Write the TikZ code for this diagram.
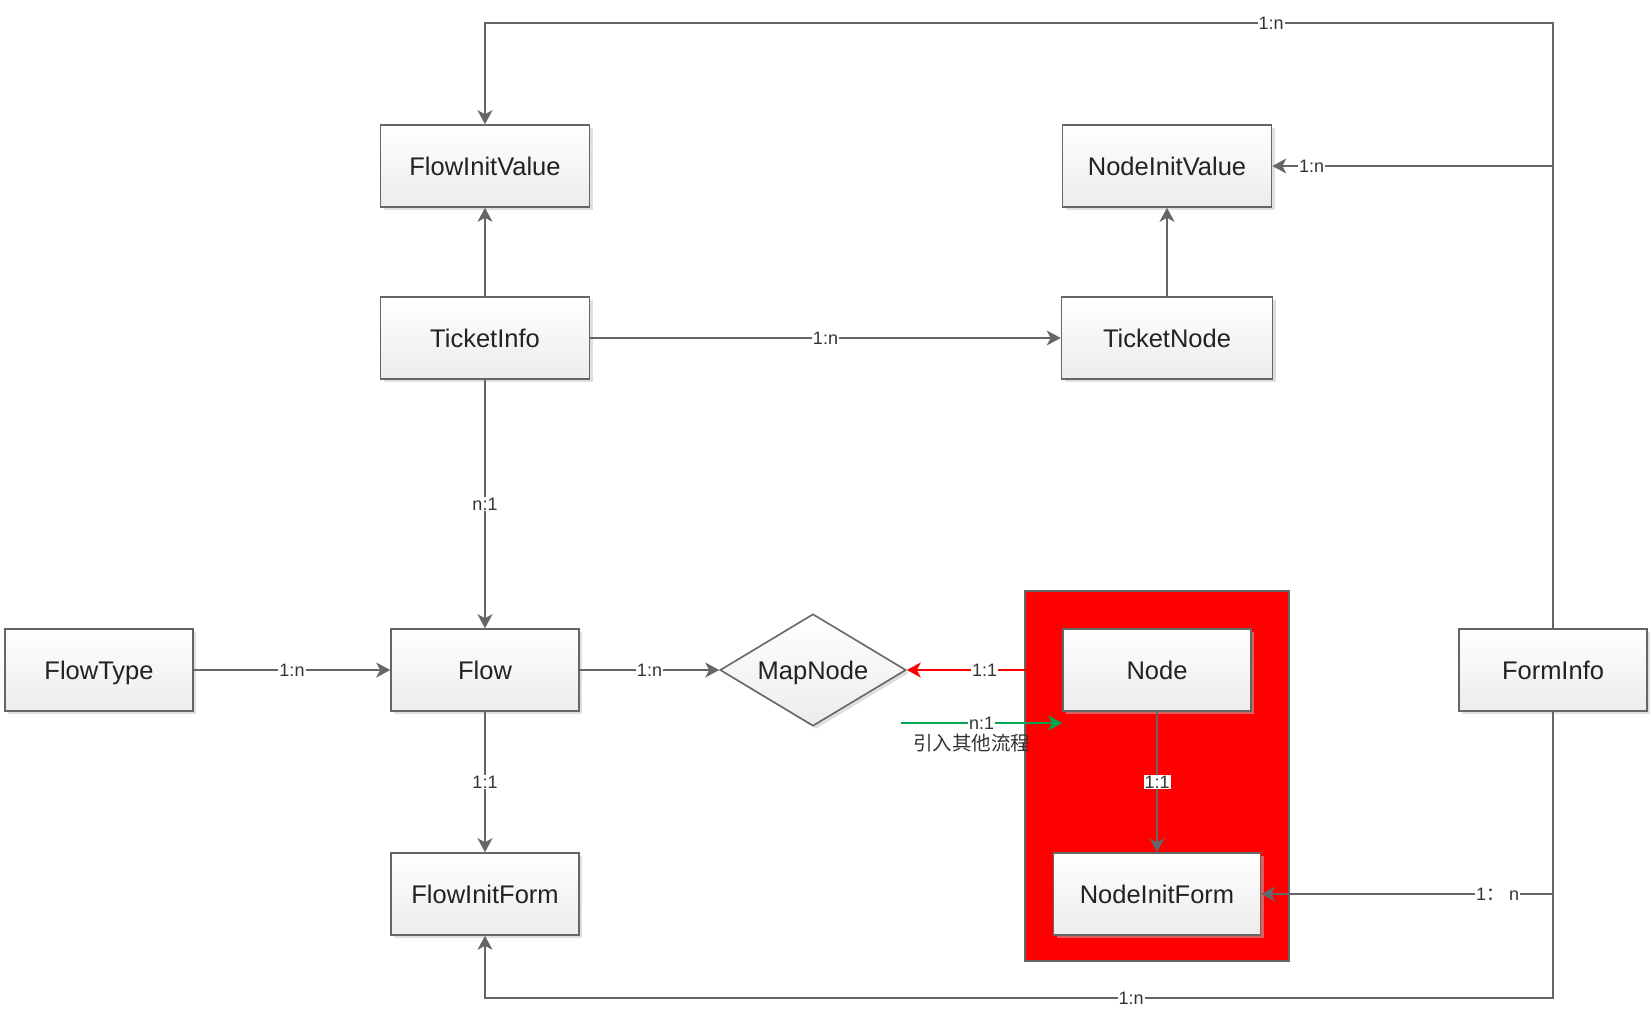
\documentclass[tikz,border=0pt]{standalone}
\usepackage{fontspec}
\setmainfont{Liberation Sans}
\newfontfamily\cjk{Noto Sans CJK SC}
\usetikzlibrary{arrows.meta}
\usetikzlibrary{shapes.geometric}
\usetikzlibrary{shadows}
\definecolor{linegray}{HTML}{666666}
\definecolor{textgray}{HTML}{222222}
\definecolor{lblgray}{HTML}{333333}
\definecolor{flowgreen}{HTML}{00A651}
\tikzset{
	entity/.style={draw=linegray, line width=1.6pt, top color=white, bottom color=gray!15,
		drop shadow={shadow xshift=3pt, shadow yshift=-3pt, fill=gray!50, opacity=.5},
		minimum height=82pt, text height=18pt, text depth=0pt, text=textgray, font=\fontsize{25.5}{30}\selectfont},
	relation/.style={entity, diamond, aspect=1.66, minimum width=186pt, minimum height=112pt, inner sep=0pt},
	conn/.style={draw=linegray, line width=1.6pt},
	lbl/.style={fill=white, inner sep=1pt, text=lblgray, font=\fontsize{18}{20}\selectfont},
	cnlbl/.style={inner sep=0pt, text=lblgray, font=\cjk\fontsize{19.5}{22}\selectfont},
	>={Stealth[length=14pt, width=15pt, inset=4pt]}
}
\begin{document}
\begin{tikzpicture}[x=1pt, y=1pt]
	\useasboundingbox (0,0) rectangle (1652,-1012);
	% red group round Node and NodeInitForm
	\node[draw=linegray, line width=1.6pt, fill=red, minimum width=264pt, minimum height=370pt] (nodegroup) at (1157,-776) {};
	\node[entity, minimum width=209pt] (flowinitvalue) at (485,-166) {FlowInitValue};
	\node[entity, minimum width=209pt] (nodeinitvalue) at (1167,-166) {NodeInitValue};
	\node[entity, minimum width=209pt] (ticketinfo) at (485,-338) {TicketInfo};
	\node[entity, minimum width=211pt] (ticketnode) at (1167,-338) {TicketNode};
	\node[entity, minimum width=188pt] (flowtype) at (99,-670) {FlowType};
	\node[entity, minimum width=188pt] (flow) at (485,-670) {Flow};
	\node[relation] (mapnode) at (813,-670) {MapNode};
	\node[entity, minimum width=188pt] (nodebox) at (1157,-670) {Node};
	\node[entity, minimum width=188pt] (forminfo) at (1553,-670) {FormInfo};
	\node[entity, minimum width=188pt] (flowinitform) at (485,-894) {FlowInitForm};
	\node[entity, minimum width=207pt] (nodeinitform) at (1157,-894) {NodeInitForm};
	% corners of the FormInfo lines
	\coordinate (topright) at (1553,-23);
	\coordinate (topleft) at (485,-23);
	\coordinate (botright) at (1553,-998);
	\coordinate (botleft) at (485,-998);
	\coordinate (otherflow) at (901,-723);
	% FormInfo
	\draw[conn, ->] (forminfo.north) -- (topright) -- node[lbl, pos=.264] {1:n} (topleft) -- (flowinitvalue.north);
	\draw[conn, ->] (forminfo.north |- nodeinitvalue.east) -- node[lbl, pos=.86] {1:n} (nodeinitvalue.east);
	\draw[conn, ->] (forminfo.south) -- (botright) -- node[lbl, pos=.395] {1:n} (botleft) -- (flowinitform.south);
	\draw[conn, ->] (forminfo.south |- nodeinitform.east) -- node[lbl, pos=.19] {1{\cjk ：} n} (nodeinitform.east);
	% tickets
	\draw[conn, ->] (ticketinfo) -- (flowinitvalue);
	\draw[conn, ->] (ticketnode) -- (nodeinitvalue);
	\draw[conn, ->] (ticketinfo) -- node[lbl] {1:n} (ticketnode);
	\draw[conn, ->] (ticketinfo) -- node[lbl] {n:1} (flow);
	% flow
	\draw[conn, ->] (flowtype) -- node[lbl] {1:n} (flow);
	\draw[conn, ->] (flow) -- node[lbl] {1:n} (mapnode);
	\draw[conn, ->] (flow) -- node[lbl] {1:1} (flowinitform);
	\draw[conn, ->] (nodebox) -- node[lbl] {1:1} (nodeinitform);
	\draw[conn, draw=red, ->] (nodebox) -- node[lbl] {1:1} (mapnode);
	\draw[conn, draw=flowgreen, ->] (otherflow) -- node[lbl] {n:1} node[cnlbl, pos=.44, yshift=-20pt] {引入其他流程} (otherflow -| nodebox.west);
\end{tikzpicture}
\end{document}
